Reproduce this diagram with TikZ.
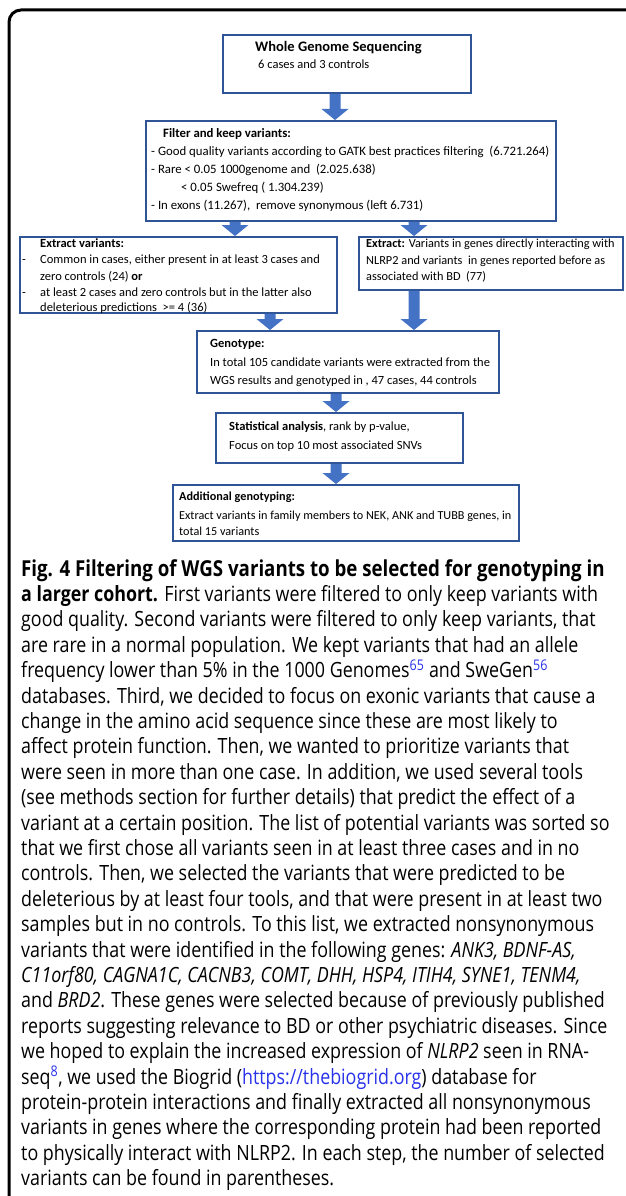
\documentclass[tikz,border=0pt]{standalone}
\usepackage{fontspec}
\setmainfont{Carlito}
\newfontfamily\capfont[FakeStretch=0.85]{Open Sans}
\usetikzlibrary{calc}
\definecolor{boxblue}{RGB}{47,85,151}
\definecolor{arrblue}{RGB}{68,114,196}
\definecolor{linkblue}{RGB}{40,50,235}
\newcommand\blockarrow[2]{%
  \fill[arrblue] let \p1=#1, \p2=#2 in
  (\x1-5.5pt,\y1) -- (\x1+5.5pt,\y1) -- (\x1+5.5pt,\y2+11pt) -- (\x1+13.5pt,\y2+11pt)
  -- (\x1,\y2) -- (\x1-13.5pt,\y2+11pt) -- (\x1-5.5pt,\y2+11pt) -- cycle;}
\tikzset{
  box/.style={draw=boxblue, line width=1.8pt, inner sep=0pt, anchor=north west},
  bt/.style={anchor=base west, inner sep=0pt, font=\fontsize{12.5}{16}\selectfont},
  bt2/.style={anchor=base west, inner sep=0pt, font=\fontsize{12.8}{16}\selectfont},
  bt4/.style={anchor=base west, inner sep=0pt, font=\fontsize{12.3}{16}\selectfont},
  bt7/.style={anchor=base west, inner sep=0pt, font=\fontsize{12.2}{16}\selectfont},
  btitle/.style={anchor=base west, inner sep=0pt, font=\bfseries\fontsize{14.5}{17}\selectfont},
  ct/.style={anchor=base west, inner sep=0pt, font=\capfont\fontsize{21}{26}\selectfont},
  ct1/.style={anchor=base west, inner sep=0pt, font=\capfont\fontsize{22}{26}\selectfont},
  frame/.style={line width=3pt, rounded corners=12pt}
}
\begin{document}
\begin{tikzpicture}[x=1pt,y=-1pt]
\useasboundingbox (0,0) rectangle (625,1196);
\fill[white] (0,0) rectangle (625,1196);
\draw[frame] (700,10) -- (9,10) -- (9,1260);

% boxes
\node[box, minimum width=248pt, minimum height=58pt] (b1) at (222,34) {};
\node[box, minimum width=410pt, minimum height=100pt] (b2) at (145,120) {};
\node[box, minimum width=317pt, minimum height=76pt] (b3) at (19,236) {};
\node[box, minimum width=264pt, minimum height=53pt] (b4) at (358,236) {};
\node[box, minimum width=302pt, minimum height=62pt] (b5) at (196,330) {};
\node[box, minimum width=247pt, minimum height=50pt] (b6) at (215,412) {};
\node[box, minimum width=346pt, minimum height=56pt] (b7) at (172,484) {};

% arrows
\blockarrow{($(b1.south west)+(113,0)$)}{(b2.north)}
\blockarrow{($(b2.south west)+(90,0)$)}{(b3.north)}
\blockarrow{($(b2.south west)+(269,0)$)}{(b4.north)}
\blockarrow{($(b3.south west)+(251,0)$)}{(b5.north)}
\blockarrow{($(b4.south west)+(56,0)$)}{(b5.north)}
\blockarrow{($(b5.south west)+(140,0)$)}{(b6.north)}
\blockarrow{($(b6.south west)+(121,0)$)}{(b7.north)}

% box 1
\node[btitle] (t1a) at (255,52) {Whole Genome Sequencing};
\node[bt] (t1b) at (258,69) {6 cases and 3 controls};
% box 2
\node[bt2] (t2a) at (163,137) {\textbf{Filter and keep variants:}};
\node[bt2] (t2b) at (151,155) {- Good quality variants according to GATK best practices filtering \ (6.721.264)};
\node[bt2] (t2c) at (151,173) {- Rare < 0.05 1000genome and \ (2.025.638)};
\node[bt2] (t2d) at (181,191) {< 0.05 Swefreq ( 1.304.239)};
\node[bt2] (t2e) at (151,209) {- In exons (11.267), \ remove synonymous (left 6.731)};
% box 3
\node[bt] (t3a) at (40,247) {\textbf{Extract variants:}};
\node[bt] (t3b) at (22,263.5) {-};
\node[bt] (t3c) at (40,263.5) {Common in cases, either present in at least 3 cases and};
\node[bt] (t3d) at (40,280) {zero controls (24) \textbf{or}};
\node[bt] (t3e) at (22,296) {-};
\node[bt] (t3f) at (40,296) {at least 2 cases and zero controls but in the latter also};
\node[bt] (t3g) at (40,311) {deleterious predictions \ >= 4 (36)};
% box 4
\node[bt4] (t4a) at (366,247) {\textbf{Extract:} Variants in genes directly interacting with};
\node[bt4] (t4b) at (366,264) {NLRP2 and variants \ in genes reported before as};
\node[bt4] (t4c) at (366,280) {associated with BD \ (77)};
% box 5
\node[bt] (t5a) at (210,347) {\textbf{Genotype:}};
\node[bt] (t5b) at (210,366) {In total 105 candidate variants were extracted from the};
\node[bt] (t5c) at (210,384) {WGS results and genotyped in , 47 cases, 44 controls};
% box 6
\node[bt] (t6a) at (229,430) {\textbf{Statistical analysis}, rank by p-value,};
\node[bt] (t6b) at (229,449) {Focus on top 10 most associated SNVs};
% box 7
\node[bt7] (t7a) at (179,500) {\textbf{Additional genotyping:}};
\node[bt7] (t7b) at (179,519) {Extract variants in family members to NEK, ANK and TUBB genes, in};
\node[bt7] (t7c) at (179,535) {total 15 variants};

% caption
\node[ct1] (c1) at (21,576) {\textbf{Fig. 4 Filtering of WGS variants to be selected for genotyping in}};
\foreach \t [count=\i from 2] in {
{\textbf{a larger cohort.} First variants were filtered to only keep variants with},
{good quality. Second variants were filtered to only keep variants, that},
{are rare in a normal population. We kept variants that had an allele},
{frequency lower than 5\% in the 1000 Genomes\textsuperscript{\textcolor{linkblue}{65}} and SweGen\textsuperscript{\textcolor{linkblue}{56}}},
{databases. Third, we decided to focus on exonic variants that cause a},
{change in the amino acid sequence since these are most likely to},
{affect protein function. Then, we wanted to prioritize variants that},
{were seen in more than one case. In addition, we used several tools},
{(see methods section for further details) that predict the effect of a},
{variant at a certain position. The list of potential variants was sorted so},
{that we first chose all variants seen in at least three cases and in no},
{controls. Then, we selected the variants that were predicted to be},
{deleterious by at least four tools, and that were present in at least two},
{samples but in no controls. To this list, we extracted nonsynonymous},
{variants that were identified in the following genes: \textit{ANK3, BDNF-AS,}},
{\textit{C11orf80, CAGNA1C, CACNB3, COMT, DHH, HSP4, ITIH4, SYNE1, TENM4,}},
{and \textit{BRD2}. These genes were selected because of previously published},
{reports suggesting relevance to BD or other psychiatric diseases. Since},
{we hoped to explain the increased expression of \textit{NLRP2} seen in RNA-},
{seq\textsuperscript{\textcolor{linkblue}{8}}, we used the Biogrid (\textcolor{linkblue}{https://thebiogrid.org}) database for},
{protein-protein interactions and finally extracted all nonsynonymous},
{variants in genes where the corresponding protein had been reported},
{to physically interact with NLRP2. In each step, the number of selected},
{variants can be found in parentheses.}
}
\node[ct] (c\i) at (21,{576+25.4*(\i-1)}) {\t};
\end{tikzpicture}
\end{document}
